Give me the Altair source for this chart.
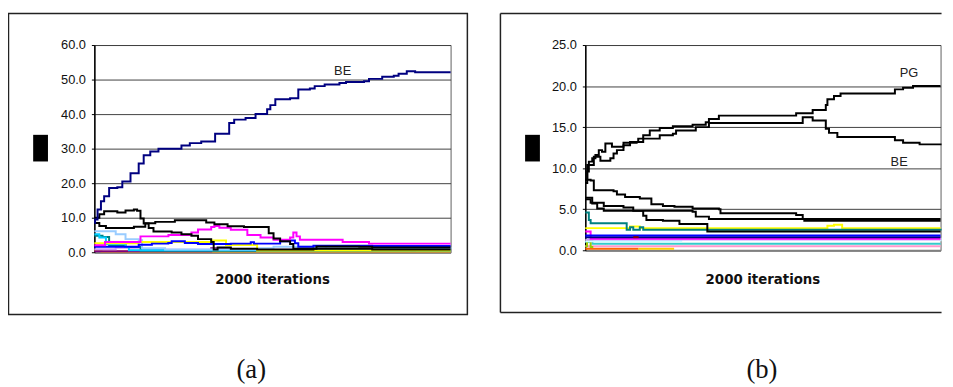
import altair as alt
import pandas as pd

# ---------------- Panel (a) data (iteration, value) ----------------
a_be_x = [0, 4, 18, 37, 55, 83, 129, 157, 203, 249, 277, 314, 360, 489, 536, 600, 678, 757, 785, 849, 905, 970, 988, 1016, 1099, 1145, 1210, 1237, 1293, 1376, 1413, 1514, 1542, 1616, 1681, 1708, 1754, 1801, 2000]
a_be_y = [8.5, 9.5, 12.4, 14.8, 16.2, 18.6, 18.8, 20.5, 22.9, 25.7, 28.1, 29.2, 30.0, 30.9, 31.6, 32.1, 34.3, 37.4, 38.4, 38.9, 40.0, 41.4, 42.6, 44.3, 44.6, 47.1, 47.4, 48.1, 48.6, 49.0, 49.3, 49.5, 50.2, 50.8, 51.1, 51.7, 52.4, 52.1, 52.1]

a_blk1_x = [0, 28, 55, 129, 175, 222, 240, 259, 277, 305, 332, 434, 489, 545, 582, 656, 670, 692, 766, 914, 1230, 1560, 2000]
a_blk1_y = [10.0, 11.0, 11.9, 11.5, 12.1, 12.4, 12.0, 9.8, 8.3, 7.0, 6.0, 5.7, 5.2, 4.8, 3.8, 3.0, 0.8, 1.4, 1.0, 0.8, 1.0, 0.8, 0.8]

a_blk2_x = [0, 28, 65, 203, 222, 277, 286, 342, 452, 609, 628, 674, 748, 840, 951, 979, 1006, 1043, 1099, 1117, 1228, 1247, 1487, 1560, 2000]
a_blk2_y = [8.5, 7.6, 7.0, 7.0, 7.4, 7.4, 8.4, 8.8, 9.3, 9.3, 8.6, 8.1, 7.5, 7.3, 7.3, 5.5, 4.0, 3.2, 2.4, 1.0, 1.0, 1.7, 1.6, 1.4, 1.4]

a_mag_x = [0, 60, 259, 416, 545, 582, 656, 674, 702, 766, 859, 933, 1006, 1099, 1117, 1135, 1154, 1394, 1542, 2000]
a_mag_y = [2.0, 3.0, 4.6, 5.0, 5.7, 6.6, 7.3, 7.6, 7.1, 6.5, 5.0, 4.3, 3.6, 4.3, 5.7, 4.6, 3.6, 3.0, 2.5, 2.5]

a_blue_x = [0, 249, 323, 415, 434, 508, 582, 766, 878, 896, 1043, 1099, 1126, 1145, 1230, 1560, 2000]
a_blue_y = [1.6, 2.2, 2.5, 2.7, 3.2, 2.7, 2.4, 2.5, 2.9, 2.5, 3.2, 3.4, 2.6, 1.6, 1.9, 1.8, 1.8]

a_lblue_x = [0, 102, 120, 175, 249, 268, 397, 914, 1006, 1300, 2000]
a_lblue_y = [6.1, 6.1, 5.2, 3.8, 3.5, 1.2, 0.8, 1.2, 1.6, 1.2, 1.0]

a_cyan_x = [0, 28, 65, 175, 194, 2000]
a_cyan_y = [5.2, 4.3, 2.4, 1.5, 0.6, 0.6]

a_teal_x = [0, 46, 83, 175, 260, 2000]
a_teal_y = [4.8, 4.4, 2.1, 1.5, 0.4, 0.4]

a_yel_x = [0, 249, 656, 739, 914, 2000]
a_yel_y = [2.6, 3.0, 3.4, 2.1, 0.5, 0.5]

a_pur_x = [0, 600, 656, 766, 1560, 1780, 1800, 2000]
a_pur_y = [0.3, 0.3, 1.2, 0.5, 0.8, 0.5, 0.9, 0.9]

a_lav_x = [0, 120, 260, 2000]
a_lav_y = [0.9, 1.3, 0.7, 0.7]

a_org_x = [0, 40, 2000]
a_org_y = [0.5, 0.2, 0.2]

# ---------------- Panel (b) data ----------------
b_pg_x = [0, 11, 20, 39, 57, 76, 94, 113, 150, 215, 289, 298, 326, 363, 419, 493, 604, 678, 696, 752, 1187, 1280, 1354, 1363, 1400, 1437, 1743, 1789, 1845, 2000]
b_pg_y = [8.6, 9.6, 10.8, 11.2, 11.6, 12.2, 12.0, 13.0, 12.6, 13.1, 13.2, 13.6, 14.0, 14.6, 14.9, 15.1, 15.3, 15.6, 16.0, 16.4, 16.7, 17.1, 17.7, 18.4, 18.8, 19.1, 19.6, 19.8, 20.0, 20.0]

b_be_x = [0, 11, 48, 85, 141, 159, 178, 215, 252, 326, 419, 493, 511, 622, 696, 1224, 1280, 1354, 1372, 1419, 1743, 1789, 1882, 2000]
b_be_y = [8.2, 10.4, 11.4, 10.9, 11.2, 11.8, 12.2, 12.8, 13.2, 13.6, 14.0, 14.2, 14.6, 15.0, 15.5, 16.2, 15.8, 14.8, 14.3, 13.8, 13.4, 13.1, 12.9, 12.8]

b_c1_x = [0, 30, 48, 159, 178, 224, 307, 372, 437, 502, 604, 752, 761, 1187, 1224, 2000]
b_c1_y = [8.6, 8.5, 7.3, 7.2, 6.8, 6.5, 6.3, 5.6, 5.4, 5.3, 5.1, 5.0, 4.5, 4.3, 3.8, 3.8]

b_c2_x = [0, 39, 67, 104, 604, 622, 696, 1233, 2000]
b_c2_y = [6.4, 5.7, 5.1, 4.8, 4.7, 4.1, 3.8, 3.6, 3.6]

b_c3_x = [0, 30, 104, 215, 270, 326, 344, 437, 530, 687, 2000]
b_c3_y = [6.2, 5.8, 5.4, 5.2, 4.8, 4.2, 3.7, 3.6, 3.2, 2.3, 2.3]

b_teal_x = [0, 20, 30, 233, 252, 270, 307, 326, 2000]
b_teal_y = [4.6, 3.7, 3.3, 2.5, 2.8, 2.5, 2.8, 2.5, 2.4]

b_yel_x = [0, 252, 307, 1363, 1400, 1446, 2000]
b_yel_y = [2.7, 2.9, 2.7, 3.0, 3.1, 2.7, 2.7]

b_mag_x = [0, 30, 2000]
b_mag_y = [2.3, 1.4, 1.4]

b_blue_x = [0, 2000]
b_blue_y = [1.8, 1.8]

b_navy_x = [0, 2000]
b_navy_y = [1.6, 1.6]

b_lav_x = [0, 2000]
b_lav_y = [1.3, 1.3]

b_lblue_x = [0, 500, 540, 2000]
b_lblue_y = [1.1, 1.1, 1.4, 1.1]

b_turq_x = [0, 20, 40, 2000]
b_turq_y = [1.0, 1.3, 0.8, 0.8]

b_grn_x = [0, 10, 30, 45]
b_grn_y = [0.5, 1.2, 0.4, 0.4]

b_pink_x = [0, 2000]
b_pink_y = [0.5, 0.5]

b_org_x = [0, 300]
b_org_y = [0.2, 0.2]

b_gold_x = [300, 500]
b_gold_y = [0.2, 0.2]

b_dred_x = [270, 300]
b_dred_y = [1.6, 1.6]

# labels
a_note_x = [1394]
a_note_y = [52.6]
a_note_t = ["BE"]
b_note_x = [1822, 1767]
b_note_y = [21.6, 10.8]
b_note_t = ["PG", "BE"]

a_ticks = [0, 10, 20, 30, 40, 50, 60]
b_ticks = [0, 5, 10, 15, 20, 25]


def frame(series):
    rows = []
    for name, xs, ys, col in series:
        for x, y in zip(xs, ys):
            rows.append({"series": name, "col": col, "iter": x, "value": y})
    return pd.DataFrame(rows)


def build(minor, black, top, ymax, ticks, notes, W, H, caption, cap_x, box_right, full_box, rect_x):
    xenc = alt.X("iter:Q", scale=alt.Scale(domain=[0, 2000], nice=False, zero=False),
                 axis=alt.Axis(labels=False, ticks=False, title=None, grid=False,
                               domainColor="#808080", domainWidth=2))
    yenc = alt.Y("value:Q", scale=alt.Scale(domain=[0, ymax], nice=False),
                 axis=alt.Axis(values=ticks, format=".1f", title=None, grid=True,
                               gridColor="#404040", gridWidth=1, tickSize=3,
                               tickColor="#000", labelFontSize=13, labelOverlap=False,
                               labelFont="Liberation Sans", labelColor="#111",
                               labelPadding=6, domainColor="#000", domainWidth=1.5))
    layers = []
    for group in (minor, black, top):
        if not group:
            continue
        df = frame(group)
        layers.append(
            alt.Chart(df).mark_line(interpolate="step-after", strokeWidth=2).encode(
                x=xenc, y=yenc,
                color=alt.Color("col:N", scale=None),
                detail="series:N",
            )
        )
    ndf = pd.DataFrame({"iter": notes[0], "value": notes[1], "t": notes[2]})
    layers.append(alt.Chart(ndf).mark_text(font="Liberation Sans", fontSize=13, color="#222").encode(
        x=xenc, y=yenc, text="t:N"))
    one = pd.DataFrame({"t": ["2000 iterations"]})
    layers.append(alt.Chart(one).mark_text(font="DejaVu Sans", fontWeight="bold", fontSize=13.5,
                                           color="#111", baseline="middle").encode(
        x=alt.value(W / 2), y=alt.value(238), text="t:N"))
    cap = pd.DataFrame({"t": [caption]})
    layers.append(alt.Chart(cap).mark_text(font="Liberation Serif", fontSize=27, color="#111",
                                           baseline="middle").encode(
        x=alt.value(cap_x), y=alt.value(329), text="t:N"))
    layers.append(alt.Chart(cap).mark_rect(color="black").encode(
        x=alt.value(rect_x), x2=alt.value(rect_x + 15), y=alt.value(91), y2=alt.value(118)))
    if full_box:
        layers.append(alt.Chart(cap).mark_rect(filled=False, stroke="#222", strokeWidth=1.5).encode(
            x=alt.value(-87), x2=alt.value(box_right), y=alt.value(-32), y2=alt.value(273)))
    else:
        layers.append(alt.Chart(cap).mark_rule(stroke="#222", strokeWidth=1.5).encode(
            x=alt.value(-86), x2=alt.value(box_right), y=alt.value(-32)))
        layers.append(alt.Chart(cap).mark_rule(stroke="#222", strokeWidth=1.5).encode(
            x=alt.value(-86), y=alt.value(-32), y2=alt.value(271)))
        layers.append(alt.Chart(cap).mark_rule(stroke="#222", strokeWidth=1.5).encode(
            x=alt.value(-86), x2=alt.value(box_right), y=alt.value(271)))
    return alt.layer(*layers).properties(width=W, height=H)


a_minor = [
    ("a_org", a_org_x, a_org_y, "#FF9900"),
    ("a_pur", a_pur_x, a_pur_y, "#800080"),
    ("a_lav", a_lav_x, a_lav_y, "#CC99FF"),
    ("a_teal", a_teal_x, a_teal_y, "#008080"),
    ("a_cyan", a_cyan_x, a_cyan_y, "#00CCFF"),
    ("a_lblue", a_lblue_x, a_lblue_y, "#99CCFF"),
    ("a_yel", a_yel_x, a_yel_y, "#FFFF00"),
    ("a_blue", a_blue_x, a_blue_y, "#0000FF"),
    ("a_mag", a_mag_x, a_mag_y, "#FF00FF"),
]
a_black = [
    ("a_blk1", a_blk1_x, a_blk1_y, "#000000"),
    ("a_blk2", a_blk2_x, a_blk2_y, "#000000"),
]
a_top = [("a_be", a_be_x, a_be_y, "#000080")]

b_minor = [
    ("b_org", b_org_x, b_org_y, "#FF6600"),
    ("b_gold", b_gold_x, b_gold_y, "#FFCC00"),
    ("b_pink", b_pink_x, b_pink_y, "#FF99CC"),
    ("b_turq", b_turq_x, b_turq_y, "#33CCCC"),
    ("b_grn", b_grn_x, b_grn_y, "#99CC00"),
    ("b_lblue", b_lblue_x, b_lblue_y, "#CCFFFF"),
    ("b_lav", b_lav_x, b_lav_y, "#CC99FF"),
    ("b_mag", b_mag_x, b_mag_y, "#FF00FF"),
    ("b_navy", b_navy_x, b_navy_y, "#000080"),
    ("b_blue", b_blue_x, b_blue_y, "#0000FF"),
    ("b_dred", b_dred_x, b_dred_y, "#800000"),
    ("b_yel", b_yel_x, b_yel_y, "#FFFF00"),
    ("b_teal", b_teal_x, b_teal_y, "#008080"),
]
b_black = [
    ("b_c1", b_c1_x, b_c1_y, "#000000"),
    ("b_c2", b_c2_x, b_c2_y, "#000000"),
    ("b_c3", b_c3_x, b_c3_y, "#000000"),
    ("b_pg", b_pg_x, b_pg_y, "#000000"),
    ("b_be", b_be_x, b_be_y, "#000000"),
]

panel_a = build(a_minor, a_black, a_top, 60, a_ticks, (a_note_x, a_note_y, a_note_t),
                361, 210, "(a)", 159, 378, True, -62)
panel_b = build(b_minor, b_black, [], 25, b_ticks, (b_note_x, b_note_y, b_note_t),
                360, 208, "(b)", 179, 361, False, -61)

chart = alt.hconcat(panel_a, panel_b, spacing=29.5).properties(
    padding={"left": -1.5, "top": 1, "right": 0, "bottom": 0}
).configure_view(stroke="#606060", strokeWidth=1)

chart.save("out.html", embed_options={"renderer": "svg", "actions": False})
